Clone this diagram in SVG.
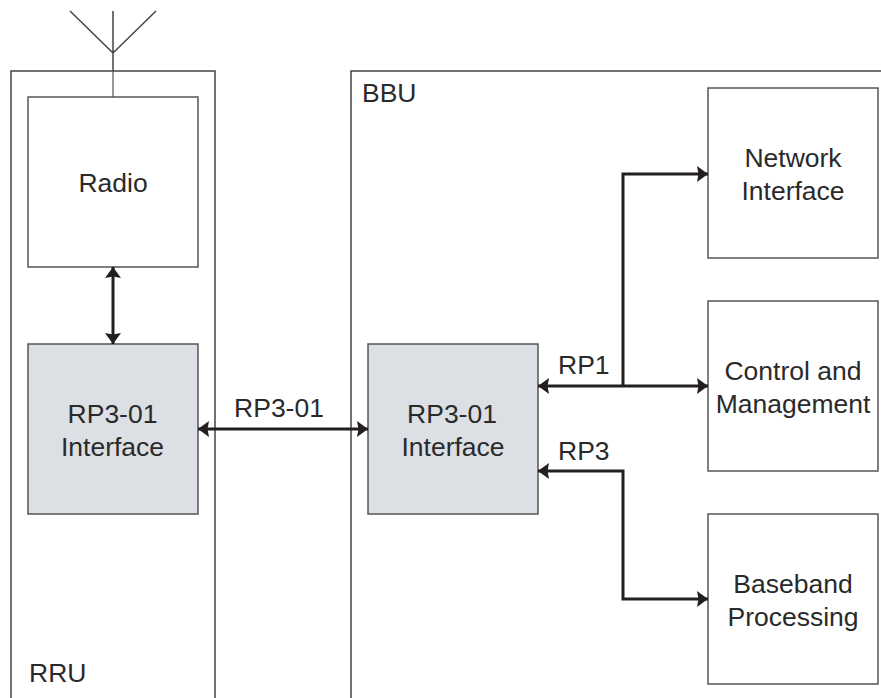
<svg xmlns="http://www.w3.org/2000/svg" width="881" height="698" viewBox="0 0 881 698">
<defs>
<marker id="ah" viewBox="0 0 11 16" refX="11" refY="8" markerWidth="11" markerHeight="16" markerUnits="userSpaceOnUse" orient="auto-start-reverse"><path d="M0 0L11 8L0 16L1.5 8Z" fill="#231f20"/></marker>
</defs>
<style>
text{font-family:"Liberation Sans",Arial,sans-serif;font-size:26.5px;fill:#2a2a2a;text-anchor:middle}
.l{text-anchor:start}
.b{fill:#fff;stroke:#555;stroke-width:1.5}
.g{fill:#dcdfe4;stroke:#555;stroke-width:1.5}
.c{fill:none;stroke:#231f20;stroke-width:3;marker-start:url(#ah);marker-end:url(#ah)}
.a{fill:none;stroke:#444;stroke-width:1.5}
</style>
<rect width="881" height="698" fill="#fff"/>
<g id="antenna">
<path class="a" d="M70 11L113 53L156 11M113 11V71"/>
<path d="M113 71V97" stroke="#777" stroke-width="1.5" fill="none"/>
</g>
<g id="rru">
<path class="a" d="M11 698V71H215V698"/>
<text class="l" x="29" y="682">RRU</text>
</g>
<g id="bbu">
<path class="a" d="M351 698V71H881"/>
<text class="l" x="362" y="102">BBU</text>
</g>
<g id="radio">
<rect class="b" x="28" y="97" width="170" height="170"/>
<text x="113" y="192">Radio</text>
</g>
<g id="rru-interface">
<rect class="g" x="28" y="344" width="170" height="170"/>
<text x="112.500" y="423">RP3-01</text>
<text x="112.500" y="456">Interface</text>
</g>
<g id="bbu-interface">
<rect class="g" x="368" y="344" width="170" height="170"/>
<text x="452" y="423">RP3-01</text>
<text x="453" y="456">Interface</text>
</g>
<g id="network-interface">
<rect class="b" x="708" y="88" width="170" height="170"/>
<text x="793" y="167">Network</text>
<text x="793" y="200">Interface</text>
</g>
<g id="control-management">
<rect class="b" x="708" y="301" width="170" height="170"/>
<text x="793" y="380">Control and</text>
<text x="793" y="413">Management</text>
</g>
<g id="baseband">
<rect class="b" x="708" y="514" width="170" height="170"/>
<text x="793" y="593">Baseband</text>
<text x="793" y="626">Processing</text>
</g>
<g id="connectors">
<path class="c" d="M113 267V344"/>
<path class="c" d="M198 429H368"/>
<path class="c" d="M538 386H708"/>
<path class="c" d="M538 471H623V599H708"/>
<path d="M623 386V174H708" fill="none" stroke="#231f20" stroke-width="3" marker-end="url(#ah)"/>
</g>
<g id="labels">
<text x="279" y="417">RP3-01</text>
<text class="l" x="558" y="374">RP1</text>
<text class="l" x="558" y="460">RP3</text>
</g>
</svg>
